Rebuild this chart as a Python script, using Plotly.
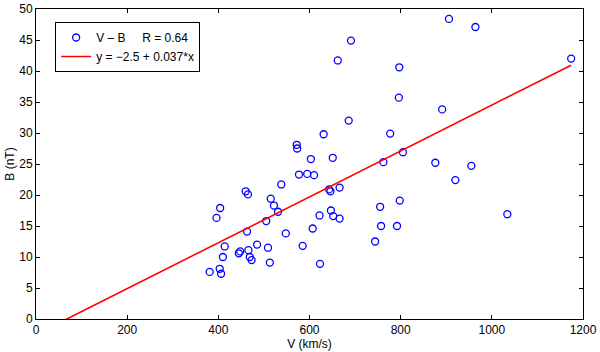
import plotly.graph_objects as go

V = [906, 964, 691, 662, 797, 1174, 796, 891, 686, 631, 777, 572, 573, 805, 651, 603, 762, 876, 955, 577,
     595, 610, 538, 666, 460, 465, 920, 643, 646, 515, 522, 404, 531, 755, 798, 647, 652, 666, 396, 622,
     1034, 505, 757, 792, 463, 607, 548, 414, 485, 466, 585, 445, 448, 509, 744, 410, 469, 473, 513, 623,
     381, 403, 406]
B = [48.4, 47.1, 44.9, 41.7, 40.6, 42.0, 35.7, 33.8, 32.0, 29.8, 29.9, 28.1, 27.5, 26.9, 26.0, 25.8, 25.3, 25.2, 24.7, 23.3,
     23.4, 23.2, 21.7, 21.2, 20.6, 20.1, 22.4, 20.9, 20.6, 19.4, 18.3, 17.9, 17.3, 18.1, 19.1, 17.5, 16.6, 16.2, 16.3, 16.7,
     16.9, 15.8, 15.0, 15.0, 14.1, 14.6, 13.8, 11.7, 12.0, 11.1, 11.8, 10.6, 10.9, 11.5, 12.5, 10.0, 10.0, 9.5, 9.1, 8.9,
     7.6, 8.1, 7.3]

intercept = -2.5
slope = 0.037
x_ticks = [0, 200, 400, 600, 800, 1000, 1200]
y_ticks = [0, 5, 10, 15, 20, 25, 30, 35, 40, 45, 50]

x_line = [0, max(V)]
y_line = [intercept + slope * x for x in x_line]

font = "Liberation Sans, Arial, sans-serif"

fig = go.Figure()
fig.add_trace(go.Scatter(
    x=V, y=B, mode="markers",
    name="V \u2013 B     R = 0.64",
    marker=dict(symbol="circle-open", size=7, color="#0000ff", line=dict(width=1.3, color="#0000ff")),
    cliponaxis=False,
))
fig.add_trace(go.Scatter(
    x=x_line, y=y_line, mode="lines",
    name="y = \u22122.5 + 0.037*x",
    line=dict(color="#ff0000", width=1.6),
))

axis_common = dict(
    showgrid=False, zeroline=False, showline=True, linecolor="black", linewidth=1,
    mirror="ticks", ticks="inside", ticklen=4, tickcolor="black", tickwidth=1,
    tickfont=dict(family=font, size=12, color="black"), automargin=False,
)

fig.update_layout(
    width=600, height=352,
    margin=dict(l=36, r=17, t=9, b=33),
    paper_bgcolor="white", plot_bgcolor="white",
    font=dict(family=font, size=12, color="black"),
    xaxis=dict(range=[0, 1200], tickvals=x_ticks,
               title=dict(text="V (km/s)", standoff=0, font=dict(family=font, size=12)),
               **axis_common),
    yaxis=dict(range=[0, 50], tickvals=y_ticks,
               title=dict(text="B (nT)", standoff=2, font=dict(family=font, size=12)),
               **axis_common),
    legend=dict(x=0.035, y=0.958, xanchor="left", yanchor="top",
                bgcolor="white", bordercolor="black", borderwidth=1,
                font=dict(family=font, size=12, color="black"),
                tracegroupgap=0, itemwidth=30),
    showlegend=True,
)

fig.write_html("out.html", config={"displayModeBar": False},
               post_script="document.body.style.margin='0';document.body.style.padding='0';")
